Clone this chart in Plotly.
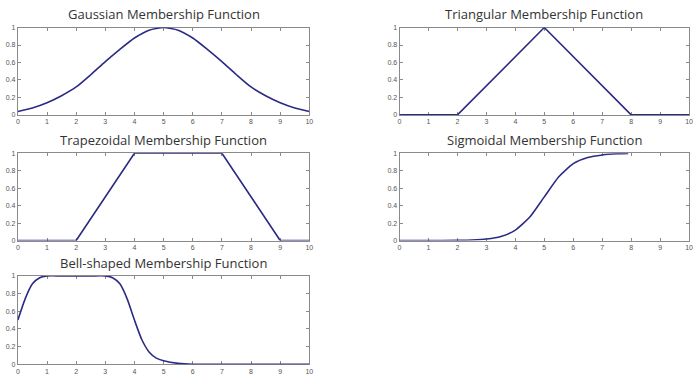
import plotly.graph_objects as go

# values
gauss_x = [0, 0.5, 1, 1.5, 2, 2.5, 3, 3.5, 4, 4.5, 5,
           5.5, 6, 6.5, 7, 7.5, 8, 8.5, 9, 9.5, 10]
gauss_y = [0.04, 0.08, 0.14, 0.22, 0.32, 0.46, 0.61, 0.75, 0.88, 0.97, 1.0,
           0.97, 0.88, 0.75, 0.61, 0.46, 0.32, 0.22, 0.14, 0.08, 0.04]

tri_x = [0, 2, 5, 8, 10]
tri_y = [0, 0, 1, 0, 0]

trap_x = [0, 2, 4, 7, 9, 10]
trap_y = [0, 0, 1, 1, 0, 0]

sig_x = [0, 1, 2, 2.5, 3, 3.5, 4, 4.5, 5, 5.5, 6, 6.5, 7, 7.5, 7.9]
sig_y = [0.0, 0.0, 0.003, 0.007, 0.018, 0.047, 0.12, 0.27, 0.5,
         0.73, 0.88, 0.95, 0.98, 0.993, 0.997]

bell_x = [0, 0.25, 0.5, 0.75, 1, 1.5, 2, 2.5, 3, 3.25, 3.5, 3.75, 4,
          4.25, 4.5, 4.75, 5, 5.5, 6, 7, 8, 9, 10]
bell_y = [0.50, 0.74, 0.91, 0.98, 1.0, 1.0, 1.0, 1.0, 1.0, 0.98, 0.91, 0.74, 0.50,
          0.28, 0.14, 0.07, 0.04, 0.01, 0.0, 0.0, 0.0, 0.0, 0.0]

titles = ["Gaussian Membership Function", "Triangular Membership Function",
          "Trapezoidal Membership Function", "Sigmoidal Membership Function",
          "Bell-shaped Membership Function"]

x_ticks = list(range(0, 11))
y_ticks = [0, 0.2, 0.4, 0.6, 0.8, 1]
y_labels = ["0", "0.2", "0.4", "0.6", "0.8", "1"]

W, H = 700, 381
LINE = "#2b2b85"

# pixel boxes (left, right, top, bottom)
boxes = [(16, 310, 24, 113),
         (401, 693, 24, 113),
         (16, 310, 152, 241),
         (401, 693, 152, 241),
         (16, 310, 277, 367)]

series = [(gauss_x, gauss_y, "spline"),
          (tri_x, tri_y, "linear"),
          (trap_x, trap_y, "linear"),
          (sig_x, sig_y, "spline"),
          (bell_x, bell_y, "spline")]

fig = go.Figure()
layout = {}
for i, ((l, r, t, b), (xs, ys, shape), title) in enumerate(zip(boxes, series, titles)):
    n = "" if i == 0 else str(i + 1)
    fig.add_trace(go.Scatter(x=xs, y=ys, mode="lines",
                             line={"color": LINE, "width": 1.6, "shape": shape,
                                   "smoothing": 0.6},
                             xaxis="x" + n, yaxis="y" + n, showlegend=False))
    common = dict(showline=True, linecolor="#8a8a8a", linewidth=1, mirror="ticks",
                  ticks="inside", ticklen=3, tickcolor="#8a8a8a", showgrid=False,
                  zeroline=False, layer="below traces",
                  tickfont={"family": "Liberation Sans", "size": 7, "color": "#555"})
    layout["xaxis" + n] = dict(domain=[l / W, r / W], range=[0, 10],
                               tickvals=x_ticks, anchor="y" + n, **common)
    layout["yaxis" + n] = dict(domain=[1 - b / H, 1 - t / H], range=[0, 1],
                               tickvals=y_ticks, ticktext=y_labels,
                               anchor="x" + n, **common)
    fig.add_annotation(x=(l + r) / 2 / W, y=1 - (t - 13.5) / H, xref="paper",
                       yref="paper", xanchor="center", yanchor="middle",
                       text=title, showarrow=False,
                       font={"family": "Open Sans", "size": 13, "color": "#333"})

fig.update_layout(width=W, height=H, margin={"l": 0, "r": 0, "t": 0, "b": 0},
                  plot_bgcolor="white", paper_bgcolor="white", **layout)
# drop the default page margin so the figure sits at the window corner
fig.write_html("out.html", config={"displayModeBar": False},
               post_script="document.body.style.margin='0';")
